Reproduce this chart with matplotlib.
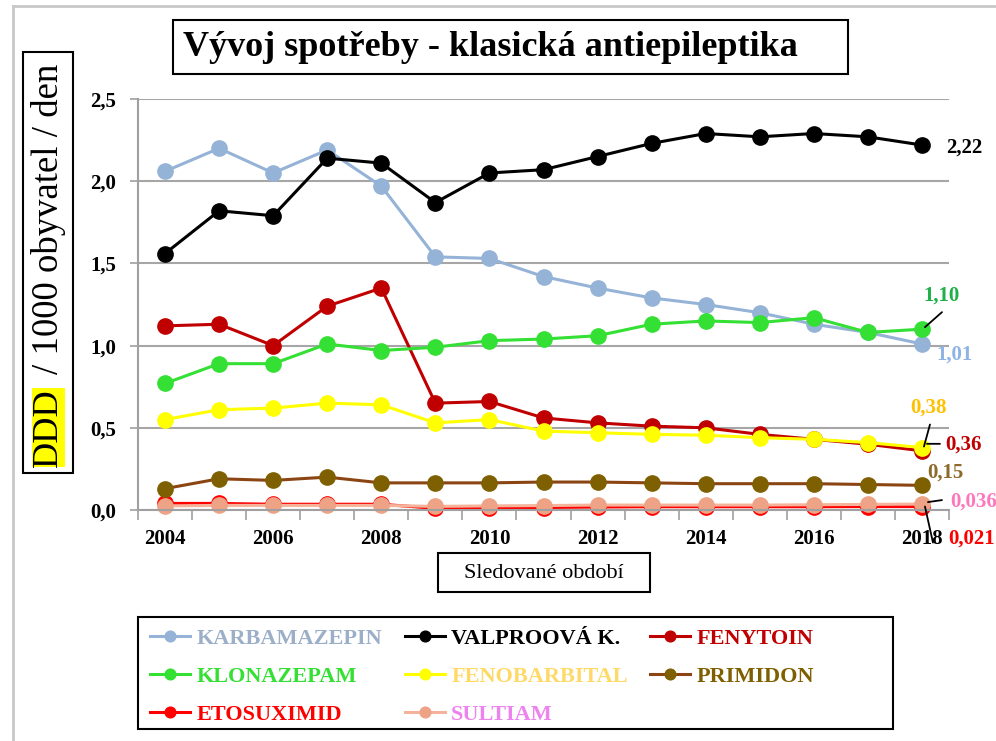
import numpy as np
import matplotlib.pyplot as plt
from matplotlib.patches import Rectangle
from matplotlib.lines import Line2D
from matplotlib.transforms import offset_copy

plt.rcParams['font.family'] = ['Liberation Serif', 'DejaVu Serif']

years = list(range(2004, 2019))
karbamazepin = [2.06, 2.20, 2.05, 2.19, 1.97, 1.54, 1.53, 1.42, 1.35, 1.29, 1.25, 1.20, 1.13, 1.08, 1.01]
valproova = [1.56, 1.82, 1.79, 2.14, 2.11, 1.87, 2.05, 2.07, 2.15, 2.23, 2.29, 2.27, 2.29, 2.27, 2.22]
fenytoin = [1.12, 1.13, 1.00, 1.24, 1.35, 0.65, 0.66, 0.56, 0.53, 0.51, 0.50, 0.46, 0.43, 0.40, 0.36]
klonazepam = [0.77, 0.89, 0.89, 1.01, 0.97, 0.99, 1.03, 1.04, 1.06, 1.13, 1.15, 1.14, 1.17, 1.08, 1.10]
fenobarbital = [0.55, 0.61, 0.62, 0.65, 0.64, 0.53, 0.55, 0.48, 0.47, 0.46, 0.455, 0.44, 0.43, 0.41, 0.38]
primidon = [0.13, 0.19, 0.18, 0.20, 0.165, 0.165, 0.165, 0.17, 0.17, 0.165, 0.16, 0.16, 0.16, 0.155, 0.15]
etosuximid = [0.04, 0.04, 0.035, 0.035, 0.035, 0.01, 0.012, 0.015, 0.018, 0.02, 0.02, 0.02, 0.02, 0.021, 0.021]
sultiam = [0.025, 0.028, 0.028, 0.028, 0.028, 0.022, 0.025, 0.027, 0.03, 0.03, 0.03, 0.03, 0.032, 0.034, 0.036]

yticks = [0.0, 0.5, 1.0, 1.5, 2.0, 2.5]
ytick_labels = ['0,0', '0,5', '1,0', '1,5', '2,0', '2,5']
xtick_labels = [str(y) if y % 2 == 0 else '' for y in years]

# name, values, line colour, marker colour, legend text colour
series = [
    ('ETOSUXIMID', etosuximid, '#ff0000', '#ff0000', '#ff0000'),
    ('SULTIAM', sultiam, '#f4b39a', '#eea386', '#ee82ee'),
    ('PRIMIDON', primidon, '#8b4513', '#7f6000', '#7f6000'),
    ('KARBAMAZEPIN', karbamazepin, '#95b3d7', '#95b3d7', '#9bafc8'),
    ('VALPROOVÁ K.', valproova, '#000000', '#000000', '#000000'),
    ('FENYTOIN', fenytoin, '#c00000', '#c00000', '#c00000'),
    ('KLONAZEPAM', klonazepam, '#33e033', '#33e033', '#33e033'),
    ('FENOBARBITAL', fenobarbital, '#ffff00', '#ffff00', '#ffd966'),
]

# end value labels: text, colour, text offset (px), leader start/end offsets (px)
end_labels = [
    ('VALPROOVÁ K.', '2,22', '#000000', (24, -3), None),
    ('KLONAZEPAM', '1,10', '#1fb04a', (1, 34), ((3, 2), (20, 17))),
    ('KARBAMAZEPIN', '1,01', '#8db4e2', (14, -11), None),
    ('FENOBARBITAL', '0,38', '#ffc000', (-12, 40), ((8, 23), (2, 1))),
    ('FENYTOIN', '0,36', '#c00000', (23, 6), ((5, 7), (18, 7))),
    ('PRIMIDON', '0,15', '#8c6a2a', (5, 13), None),
    ('SULTIAM', '0,036', '#ff77bb', (28, 2), ((6, 2), (20, 4))),
    ('ETOSUXIMID', '0,021', '#ff0000', (26, -32), ((3, 0), (11, -36))),
]

W, H = 996, 741
fig = plt.figure(figsize=(W / 100, H / 100), dpi=100)
ax = fig.add_axes([138 / W, 1 - 510 / H, (949 - 138) / W, (510 - 99) / H])

lines = {}
for name, vals, lc, mc, tc in series:
    ln, = ax.plot(years, vals, color=lc, lw=2.2, marker='o', markersize=11,
                  markerfacecolor=mc, markeredgecolor=mc, label=name, clip_on=False)
    lines[name] = (ln, tc, vals)

ax.set_xlim(2003.5, 2018.5)
ax.set_ylim(0, 2.5)
ax.set_yticks(yticks)
ax.set_yticklabels(ytick_labels, fontsize=15, fontweight='bold')
ax.set_xticks(years)
ax.set_xticklabels(xtick_labels, fontsize=15, fontweight='bold')
ax.set_xticks(np.arange(2003.5, 2019, 1), minor=True)
ax.tick_params(axis='x', which='major', length=0, pad=14)
ax.tick_params(axis='x', which='minor', length=7, width=1.2, color='#a0a0a0', direction='out')
ax.tick_params(axis='y', length=6, width=1.2, color='#a0a0a0', pad=10)
ax.yaxis.grid(True, color='#a6a6a6', lw=1.5)
ax.set_axisbelow(True)
for s in ['top', 'right']:
    ax.spines[s].set_visible(False)
for s in ['left', 'bottom']:
    ax.spines[s].set_color('#a0a0a0')
    ax.spines[s].set_linewidth(1.5)

for name, txt, col, (tx, ty), leader in end_labels:
    v = lines[name][2][-1]
    ax.annotate(txt, xy=(years[-1], v), xytext=(tx, ty), textcoords='offset pixels',
                ha='left', va='center', fontsize=15, fontweight='bold', color=col,
                annotation_clip=False)
    if leader is not None:
        (x1, y1), (x2, y2) = leader
        t1 = offset_copy(ax.transData, fig=fig, x=x1, y=y1, units='dots')
        t2 = offset_copy(ax.transData, fig=fig, x=x2, y=y2, units='dots')
        ax.annotate('', xy=(years[-1], v), xycoords=t1, xytext=(years[-1], v), textcoords=t2,
                    arrowprops=dict(arrowstyle='-', color='black', lw=1.3, shrinkA=0, shrinkB=0),
                    annotation_clip=False)

# outer frame
fig.add_artist(Line2D([13 / W, 1], [1 - 6 / H, 1 - 6 / H], transform=fig.transFigure, color='#c8c8c8', lw=2))
fig.add_artist(Line2D([13 / W, 13 / W], [0, 1 - 6 / H], transform=fig.transFigure, color='#c8c8c8', lw=2))

# title
fig.add_artist(Rectangle((173 / W, 1 - 74 / H), (848 - 173) / W, (74 - 20) / H, transform=fig.transFigure,
                         facecolor='white', edgecolor='black', lw=1.5))
fig.text(183 / W, 1 - 47 / H, 'Vývoj spotřeby - klasická antiepileptika', fontsize=26,
         fontweight='bold', ha='left', va='center')

# y label
fig.add_artist(Rectangle((23 / W, 1 - 473 / H), 50 / W, (473 - 52) / H, transform=fig.transFigure,
                         facecolor='white', edgecolor='black', lw=1.5))
fig.text(48 / W, 1 - 467 / H, 'DDD', rotation=90, fontsize=26, ha='center', va='bottom',
         bbox=dict(facecolor='#ffff00', edgecolor='none', pad=0))
fig.text(48 / W, 1 - 374 / H, '/ 1000 obyvatel / den', rotation=90, fontsize=26.5, ha='center', va='bottom')

# x label
fig.add_artist(Rectangle((438 / W, 1 - 592 / H), (650 - 438) / W, (592 - 553) / H, transform=fig.transFigure,
                         facecolor='white', edgecolor='black', lw=1.5))
fig.text(544 / W, 1 - 573 / H, 'Sledované období', fontsize=16, ha='center', va='center')

# legend (column-wise order so rows read as in the original)
order = ['KARBAMAZEPIN', 'KLONAZEPAM', 'ETOSUXIMID', 'VALPROOVÁ K.', 'FENOBARBITAL', 'SULTIAM',
         'FENYTOIN', 'PRIMIDON']
handles = [lines[n][0] for n in order]
fig.add_artist(Rectangle((138 / W, 1 - 729 / H), (893 - 138) / W, (729 - 617) / H, transform=fig.transFigure,
                         facecolor='white', edgecolor='black', lw=1.5))
leg = fig.legend(handles, order, loc='upper left', ncol=3,
                 bbox_to_anchor=(150 / W, 1 - 628 / H), borderaxespad=0, borderpad=0,
                 prop=dict(family='Liberation Serif', weight='bold', size=16),
                 frameon=False, handlelength=1.8, handletextpad=0.3, columnspacing=1.0,
                 labelspacing=0.8, markerscale=0.7)
for t, n in zip(leg.get_texts(), order):
    t.set_color(lines[n][1])

fig.savefig('out.png', dpi=100)
